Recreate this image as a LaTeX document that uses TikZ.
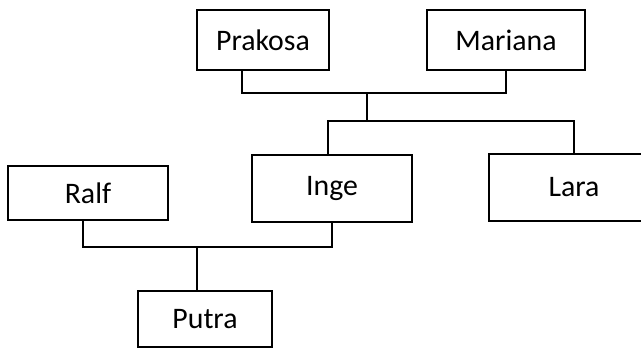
\documentclass[tikz,border=0pt]{standalone}
\usepackage{fontspec}
\setmainfont{Carlito}
\usepackage{xcolor}

\tikzset{
	person/.style={draw, line width=1pt, rectangle, minimum height=30pt, inner sep=0pt, font=\fontsize{14.9}{17}\selectfont},
	link/.style={line width=1pt}
}

\begin{document}
\begin{tikzpicture}[x=0.5pt, y=-0.5pt]
	\useasboundingbox (0,0) rectangle (641,349);

	% Define the nodes with specific positions
	\begin{scope}
		\node[person, minimum width=66pt] (prakosa) at (263, 40) {Prakosa};
		\node[person, minimum width=79pt] (mariana) at (506, 40) {Mariana};

		\node[person, minimum width=80pt, minimum height=33.5pt] (inge) at (332, 188) {Inge};
		\node[person, minimum width=85pt, minimum height=33.5pt] (lara) at (574, 187) {Lara};
		\node[person, minimum width=80pt, minimum height=27pt] (ralf) at (88, 193) {Ralf};

		\node[person, minimum width=67pt, minimum height=28pt] (putra) at (205, 319) {Putra};
	\end{scope}

	% Junction points of the connectors
	\coordinate (j1) at (367, 93);
	\coordinate (j2) at (367, 121);
	\coordinate (j3) at (197, 247);

	% Draw the connectors between the nodes
	\draw[link] ([xshift=-10.5pt]prakosa.south) |- (j1) -| (mariana.south);
	\draw[link] (j1) -- (j2);
	\draw[link] ([xshift=-2pt]inge.north) |- (j2) -| (lara.north);
	\draw[link] ([xshift=-2.5pt]ralf.south) |- (j3) -| (inge.south);
	\draw[link] (j3) -- (j3 |- putra.north);
\end{tikzpicture}
\end{document}
